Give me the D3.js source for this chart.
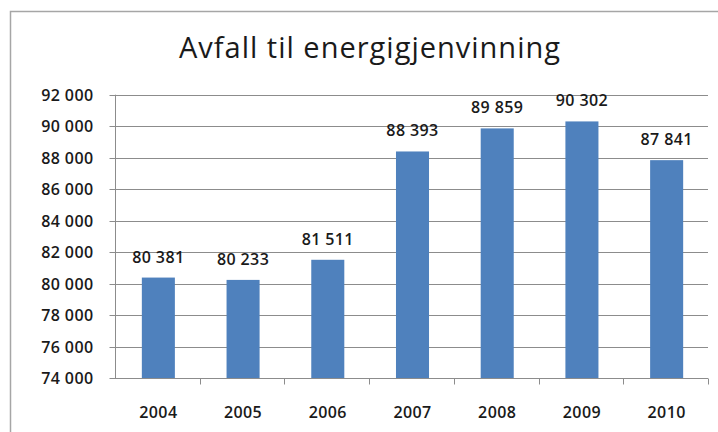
<!DOCTYPE html>
<html><head><meta charset="utf-8">
<script src="https://cdn.jsdelivr.net/npm/d3@7"></script>
<style>
html,body{margin:0;padding:0;background:#fff;}
svg{display:block;}
text{font-family:"Open Sans",sans-serif;fill:#1a1a1a;}
</style></head>
<body>
<script>
const years = ["2004","2005","2006","2007","2008","2009","2010"];
const values = [80381, 80233, 81511, 88393, 89859, 90302, 87841];
const yTicks = [74000,76000,78000,80000,82000,84000,86000,88000,90000,92000];
const title = "Avfall til energigjenvinning";

(function () {
const W = 718, H = 432;
const fmt = v => d3.format(",")(v).replace(/,/g, " ");
const svg = d3.select("body").append("svg").attr("width", W).attr("height", H);

// outer chart frame
svg.append("rect").attr("x", 10.5).attr("y", 11.5).attr("width", W + 20).attr("height", H + 20)
  .attr("fill", "#fff").attr("stroke", "#a6a6a6").attr("stroke-width", 1.5);

const pLeft = 115, pRight = 708, pTop = 94.7, pBottom = 378;
const x = d3.scaleBand().domain(years).range([pLeft, pRight]).padding(0);
const y = d3.scaleLinear().domain([74000, 92000]).range([pBottom, pTop]);

// title
svg.append("text").attr("x", 370).attr("y", 57.5).attr("text-anchor", "middle")
  .style("font-size", "29px").style("letter-spacing", "1px").attr("fill", "#111").text(title);

// gridlines
svg.append("g").selectAll("line").data(yTicks.slice(1)).join("line")
  .attr("x1", pLeft).attr("x2", pRight)
  .attr("y1", d => Math.round(y(d)) + 0.5).attr("y2", d => Math.round(y(d)) + 0.5)
  .attr("stroke", "#8c8c8c").attr("stroke-width", 1);

const lblStyle = sel => sel.style("font-size", "16px").style("font-weight", "600")
  .style("letter-spacing", "0.4px").attr("fill", "#1a1a1a");

// y axis
const yAxis = d3.axisLeft(y).tickValues(yTicks).tickFormat(fmt).tickSize(6).tickPadding(16);
const gy = svg.append("g").attr("transform", `translate(${pLeft + 0.5},0)`).call(yAxis);
gy.select(".domain").attr("stroke", "#8c8c8c").attr("d", `M0,${pBottom}V${pTop}`);
gy.selectAll(".tick line").attr("stroke", "#8c8c8c");
gy.selectAll(".tick text").call(lblStyle).attr("dy", "0.36em");
gy.selectAll(".tick").attr("transform", d => `translate(0,${Math.round(y(d)) + 0.5})`);

// bars
const barW = x.bandwidth() * 0.39;
svg.append("g").selectAll("rect").data(values).join("rect")
  .attr("x", (d, i) => x(years[i]) + x.bandwidth() / 2 - barW / 2 + 1)
  .attr("width", barW)
  .attr("y", d => y(d))
  .attr("height", d => y(74000) - y(d))
  .attr("fill", "#4f81bd");

// x axis
const gx = svg.append("g").attr("transform", `translate(0,${Math.round(pBottom) + 0.5})`);
gx.append("line").attr("x1", pLeft).attr("x2", pRight).attr("stroke", "#8c8c8c");
gx.selectAll("line.tk").data(years).join("line").attr("class", "tk")
  .attr("x1", d => Math.round(x(d) + x.bandwidth()) + 0.5)
  .attr("x2", d => Math.round(x(d) + x.bandwidth()) + 0.5)
  .attr("y1", 0).attr("y2", 6).attr("stroke", "#8c8c8c");
gx.selectAll("text").data(years).join("text")
  .attr("x", d => x(d) + x.bandwidth() / 2 + 1).attr("y", 39)
  .attr("text-anchor", "middle").call(lblStyle)
  .text(d => d);

// value labels
svg.append("g").selectAll("text").data(values).join("text")
  .attr("x", (d, i) => x(years[i]) + x.bandwidth() / 2 + 1)
  .attr("y", d => y(d) - 15)
  .attr("text-anchor", "middle").call(lblStyle)
  .text(d => fmt(d));
})();
</script>
</body></html>
